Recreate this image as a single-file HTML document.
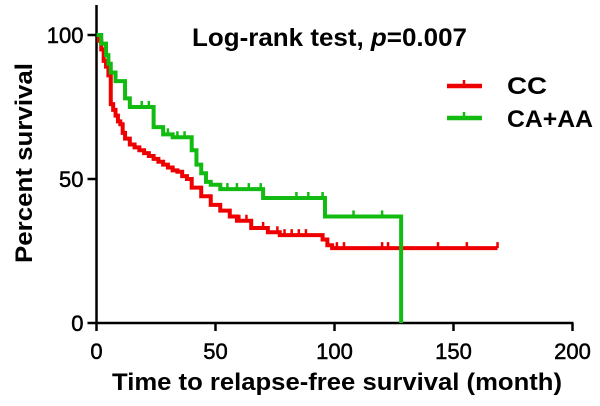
<!DOCTYPE html>
<html><head><meta charset="utf-8"><style>
body{margin:0;background:#fff;}
svg{display:block;font-family:"Liberation Sans",Arial,sans-serif;}
</style></head><body>
<svg id="chart" width="600" height="406" viewBox="0 0 600 406">
<g id="axes"></g>
<g id="series"></g>
<text x="192" y="46" font-size="25" font-weight="bold" textLength="275" lengthAdjust="spacingAndGlyphs">Log-rank test, <tspan font-style="italic">p</tspan>=0.007</text>
<g>
<g>
<line x1="447" y1="86" x2="482" y2="86" stroke="#ee0000" stroke-width="4.5"/><line x1="464" y1="80" x2="464" y2="86" stroke="#ee0000" stroke-width="2.5"/>
<text x="507" y="94" font-size="24" font-weight="bold" textLength="40" lengthAdjust="spacingAndGlyphs">CC</text></g>
<g>
<line x1="447" y1="118" x2="482" y2="118" stroke="#11bb11" stroke-width="4.5"/><line x1="464" y1="112" x2="464" y2="118" stroke="#11bb11" stroke-width="2.5"/>
<text x="507" y="127" font-size="24" font-weight="bold" textLength="86" lengthAdjust="spacingAndGlyphs">CA+AA</text></g>
</g>
<text x="337" y="390" font-size="24" font-weight="bold" text-anchor="middle" textLength="450" lengthAdjust="spacingAndGlyphs">Time to relapse-free survival (month)</text>
<text transform="translate(32,163) rotate(-90)" font-size="24" font-weight="bold" text-anchor="middle" textLength="200" lengthAdjust="spacingAndGlyphs">Percent survival</text>
</svg>
<script>
const xTicks=[0,50,100,150,200];
const yTicks=[0,50,100];
const ccTimes=[1,2,3,4,5,6,7,8,9,10,11,12,14,16,18,20,22,24,26,28,30,32,34,36,38,40,44,48,52,56,59,65,72,77,95,97,99];
const ccValues=[98,95,91,89,86,76,74,72,70,69,66,64,62,61,60,59,58,57,56,55,54,53,52.5,51,50,47,44,41,39,37,35.5,33,31.5,30.5,29,27,26];
const ccEnd=168.5;
const ccCensor=[60,63,70,76,79,82,85,88,101,104,120,122.5,143.5,155.6,168.5];
const gTimes=[2,4,5,6,8,12,14,24,28,32,40,42,44,46,48,52,70,96,128];
const gValues=[97,93,90,87,84,78,75,68,65.5,64.5,60,55,52,49,48,46.5,43.4,37,0];
const gEnd=128;
const gCensor=[19,22,30,34,37,55,59,64,69,84,89,95,108,120];

const X=v=>96.5+v*2.38, Y=v=>323-v*2.88;
const NS="http://www.w3.org/2000/svg";
function mk(tag,attrs,parent){const e=document.createElementNS(NS,tag);for(const k in attrs)e.setAttribute(k,attrs[k]);parent.appendChild(e);return e;}
const axes=document.getElementById('axes');
let a=mk('line',{x1:X(0),y1:5,x2:X(0),y2:Y(0)+1,stroke:'#000','stroke-width':2.5},axes);


a=mk('line',{x1:X(0)-1,y1:Y(0),x2:X(200)+1,y2:Y(0),stroke:'#000','stroke-width':2.5},axes);


xTicks.forEach(t=>{
 const l=mk('line',{x1:X(t),y1:Y(0),x2:X(t),y2:Y(0)+8,stroke:'#000','stroke-width':2.5},axes);
 
 
 const tx=mk('text',{x:X(t),y:359,'font-size':22,'text-anchor':'middle',stroke:'#000','stroke-width':0.5},axes);tx.textContent=t;
 
 
});
yTicks.forEach(t=>{
 const l=mk('line',{x1:X(0)-9,y1:Y(t),x2:X(0),y2:Y(t),stroke:'#000','stroke-width':2.5},axes);
 
 
 const tx=mk('text',{x:X(0)-13,y:Y(t)+8,'font-size':22,'text-anchor':'end',stroke:'#000','stroke-width':0.5},axes);tx.textContent=t;
 
 
});
const series=document.getElementById('series');
function km(times,vals,end){let d=`M${X(0)},${Y(100)}`;
 times.forEach((t,i)=>{d+=`H${X(t)}V${Y(vals[i])}`;});
 if(end>times[times.length-1])d+=`H${X(end)}`;return d;}
function valAt(times,vals,t){let v=100;times.forEach((tt,i)=>{if(tt<=t)v=vals[i];});return v;}
function draw(times,vals,end,cens,color,name){
 const p=mk('path',{d:km(times,vals,end),fill:'none',stroke:color,'stroke-width':4,'stroke-linejoin':'miter'},series);
 
 
 cens.forEach(c=>{const v=valAt(times,vals,c);
  const l=mk('line',{x1:X(c),y1:Y(v)-6,x2:X(c),y2:Y(v),stroke:color,'stroke-width':2.5},series);
  
  });
}
draw(ccTimes,ccValues,ccEnd,ccCensor,'#ee0000','cc');
draw(gTimes,gValues,gEnd,gCensor,'#11bb11','ca-aa');
</script>
</body></html>
